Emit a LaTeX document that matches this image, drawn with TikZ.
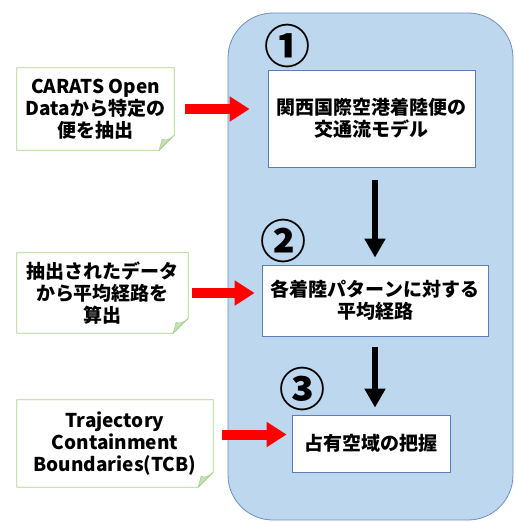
\documentclass[tikz,border=0pt]{standalone}
\usepackage{fontspec}
\setmainfont{Noto Sans CJK JP}
\usepackage{xcolor}
\definecolor{panelBlue}{HTML}{BDD7EE}
\definecolor{panelEdge}{HTML}{6F8FBF}
\definecolor{boxEdge}{HTML}{5B7DB3}
\definecolor{memoEdge}{HTML}{A9D18E}
\definecolor{memoFold}{HTML}{C5E0B4}
\definecolor{flowRed}{HTML}{FF0000}
\usepackage{tikz}
\usetikzlibrary{
    arrows.meta,
    positioning,
    calc
}
\tikzset{
    % Base style for all texts
    base text/.style={
        font=\fontsize{19}{22}\selectfont\bfseries,
        align=center,
        text=black,
        inner sep=0pt,
    },
    % Memo notes on the left - folded corner drawn afterwards
    memo/.style={
        base text,
        rectangle,
        fill=white,
    },
    % Process boxes inside the panel
    process/.style={
        base text,
        rectangle,
        draw=boxEdge,
        line width=0.8pt,
        fill=white,
    },
    % Circled step numbers
    stepnum/.style={
        font=\fontsize{46}{46}\selectfont\bfseries,
        inner sep=0pt,
    },
    % Thick red input arrow
    input arrow/.style={
        -{Triangle[length=20pt, width=24pt]},
        line width=10pt,
        draw=flowRed,
    },
    % Thick black flow arrow
    flow arrow/.style={
        -{Triangle[length=19pt, width=20pt]},
        line width=6pt,
        draw=black,
    },
}

\begin{document}
\begin{tikzpicture}[x=1pt, y=-1pt]
    \useasboundingbox (0,0) rectangle (516,523);

    % background panel
    \draw [fill=panelBlue, draw=panelEdge, line width=0.8pt, rounded corners=45pt]
        (228,13) rectangle (513,520);

    \node (note1) [memo, minimum width=157pt, minimum height=82pt] at (95.5,109)
        {CARATS Open\\Dataから特定の\\便を抽出};
    \node (note2) [memo, minimum width=171pt, minimum height=80pt] at (102.5,293)
        {抽出されたデータ\\から平均経路を\\算出};
    \node (note3) [memo, minimum width=196pt, minimum height=87pt] at (115,443.5)
        {Trajectory\\Containment\\Boundaries(TCB)};

    \foreach \n in {note1,note2,note3} {
        \draw [memoEdge, line width=0.8pt]
            (\n.north west) -- (\n.north east) -- ([yshift=15pt]\n.south east)
            -- ([xshift=-15pt]\n.south east) -- (\n.south west) -- cycle;
        \draw [memoEdge, fill=memoFold, line width=0.6pt]
            ([yshift=15pt]\n.south east) .. controls ([xshift=-6pt,yshift=9pt]\n.south east) and ([xshift=-10pt,yshift=10pt]\n.south east) .. ([xshift=-12pt,yshift=11pt]\n.south east)
            -- ([xshift=-15pt]\n.south east) -- cycle;
    }

    \node (box1) [process, minimum width=207pt, minimum height=97pt] at (371.5,118.5)
        {関西国際空港着陸便の\\交通流モデル};
    \node (box2) [process, minimum width=226pt, minimum height=71pt] at (375,300.5)
        {各着陸パターンに対する\\平均経路};
    \node (box3) [process, minimum width=158pt, minimum height=57pt] at (371,443.5)
        {占有空域の把握};

    \node (num1) [stepnum] at (287,46) {①};
    \node (num2) [stepnum] at (283,241) {②};
    \node (num3) [stepnum] at (302,389) {③};

    \draw [input arrow, shorten <=11pt, shorten >=18pt] (note1.east) -- (note1.east -| box1.west);
    \draw [input arrow, shorten <=4pt, shorten >=7pt] (note2.east) -- (note2.east -| box2.west);
    \draw [input arrow, shorten <=9pt, shorten >=5pt] ([yshift=9pt]note3.east) -- ([yshift=9pt]note3.east -| box3.west);

    \draw [flow arrow, shorten <=13pt, shorten >=7pt] (box1.south -| box2.north) -- (box2.north);
    \draw [flow arrow, shorten <=11pt, shorten >=7pt] (box2.south) -- (box2.south |- box3.north);
\end{tikzpicture}
\end{document}
